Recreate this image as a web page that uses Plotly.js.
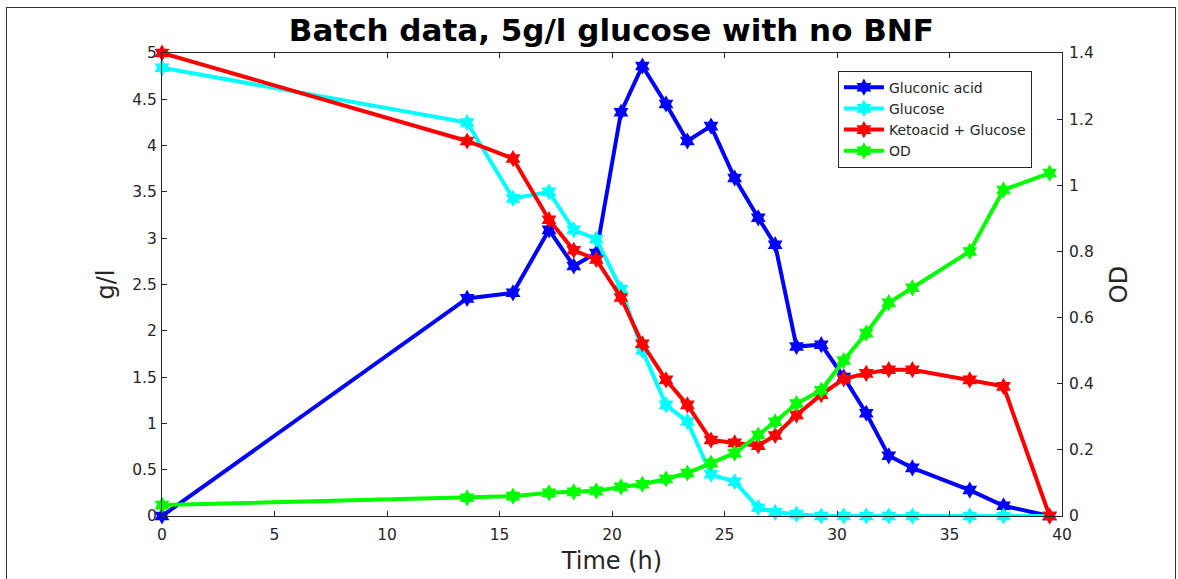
<!DOCTYPE html>
<html>
<head>
<meta charset="utf-8">
<script src="https://cdn.plot.ly/plotly-3.0.1.min.js"></script>
<style>
html,body{margin:0;padding:0;background:#fff;overflow:hidden;}
#wrap{position:relative;width:1178px;height:579px;}
#frame{position:absolute;left:6px;top:7px;width:1168px;height:600px;border:1px solid #333;pointer-events:none;}
#chart{position:absolute;left:0;top:0;width:1178px;height:579px;}
</style>
</head>
<body>
<div id="wrap"><div id="chart"></div><div id="frame"></div></div>
<script>
const time = [0, 13.56, 15.6, 17.2, 18.3, 19.3, 20.4, 21.35, 22.4, 23.35, 24.4, 25.45, 26.5, 27.25, 28.2, 29.3, 30.3, 31.3, 32.3, 33.35, 35.9, 37.4, 39.45];
const gluconic = [0, 2.35, 2.41, 3.09, 2.70, 2.84, 4.36, 4.86, 4.45, 4.05, 4.21, 3.65, 3.22, 2.93, 1.83, 1.85, 1.50, 1.11, 0.65, 0.52, 0.28, 0.11, 0];
const glucose = [4.84, 4.25, 3.43, 3.50, 3.09, 2.99, 2.45, 1.79, 1.20, 1.02, 0.45, 0.37, 0.09, 0.04, 0.02, 0.0, 0.0, 0.0, 0.0, 0.0, 0.0, 0.0, 0];
const keto = [5.0, 4.05, 3.86, 3.20, 2.87, 2.77, 2.36, 1.86, 1.47, 1.20, 0.82, 0.79, 0.76, 0.87, 1.09, 1.31, 1.48, 1.54, 1.58, 1.58, 1.47, 1.40, 0];
const od = [0.033, 0.055, 0.06, 0.07, 0.073, 0.076, 0.088, 0.096, 0.112, 0.13, 0.16, 0.19, 0.245, 0.285, 0.34, 0.38, 0.47, 0.553, 0.645, 0.69, 0.80, 0.986, 1.037];

const names = ['Gluconic acid', 'Glucose', 'Ketoacid + Glucose', 'OD'];
const colors = ['#0000ff', '#00ffff', '#ff0000', '#00ff00'];
const xTicks = [0, 5, 10, 15, 20, 25, 30, 35, 40];
const yTicks = [0, 0.5, 1, 1.5, 2, 2.5, 3, 3.5, 4, 4.5, 5];
const yTickText = ['0', '0.5', '1', '1.5', '2', '2.5', '3', '3.5', '4', '4.5', '5'];
const y2Ticks = [0, 0.2, 0.4, 0.6, 0.8, 1, 1.2, 1.4];
const y2TickText = ['0', '0.2', '0.4', '0.6', '0.8', '1', '1.2', '1.4'];

const series = [gluconic, glucose, keto, od];
const traces = series.map((ys, i) => ({
  x: time, y: ys, name: names[i], type: 'scatter', mode: 'lines+markers',
  yaxis: i === 3 ? 'y2' : 'y',
  cliponaxis: false,
  line: {color: colors[i], width: 4},
  marker: {symbol: 'hexagram', size: 13, color: colors[i], line: {width: 0}}
}));

const axisCol = '#262626';
const font = 'DejaVu Sans, sans-serif';
const layout = {
  width: 1178, height: 579,
  margin: {l: 162, r: 116, t: 53, b: 63, pad: 0},
  paper_bgcolor: '#fff', plot_bgcolor: '#fff',
  font: {family: font, color: axisCol, size: 15},
  title: {text: '<b>Batch data, 5g/l glucose with no BNF</b>', font: {family: font, size: 31, color: '#000'},
          x: 0.519, xanchor: 'center', y: 0.948, yanchor: 'middle'},
  showlegend: true,
  legend: {x: 0.751, xanchor: 'left', y: 0.962, yanchor: 'top', bgcolor: '#fff',
           bordercolor: axisCol, borderwidth: 1, font: {family: font, size: 14, color: axisCol},
           tracegroupgap: 0, itemwidth: 40},
  xaxis: {range: [0, 40], tickvals: xTicks, ticktext: xTicks.map(String), ticks: 'inside', ticklen: 5,
          tickcolor: axisCol, showline: true, linecolor: axisCol, linewidth: 1, mirror: 'ticks',
          showgrid: false, zeroline: false, tickfont: {size: 15.5, color: axisCol}, ticklabelstandoff: 4,
          title: {text: 'Time (h)', font: {size: 24, color: axisCol}, standoff: 9}},
  yaxis: {range: [0, 5], tickvals: yTicks, ticktext: yTickText, ticks: 'inside', ticklen: 5,
          tickcolor: axisCol, showline: true, linecolor: axisCol, linewidth: 1, mirror: false,
          showgrid: false, zeroline: false, tickfont: {size: 15.5, color: axisCol}, ticklabelstandoff: 1,
          title: {text: 'g/l', font: {size: 24, color: axisCol}, standoff: 10}},
  yaxis2: {range: [0, 1.4], tickvals: y2Ticks, ticktext: y2TickText, ticks: 'inside', ticklen: 5,
           overlaying: 'y', side: 'right',
           tickcolor: axisCol, showline: true, linecolor: axisCol, linewidth: 1,
           showgrid: false, zeroline: false, tickfont: {size: 15.5, color: axisCol}, ticklabelstandoff: 3,
           title: {text: 'OD', font: {size: 24, color: axisCol}, standoff: 17}}
};
Plotly.newPlot('chart', traces, layout, {displayModeBar: false, staticPlot: true});
</script>
</body>
</html>
